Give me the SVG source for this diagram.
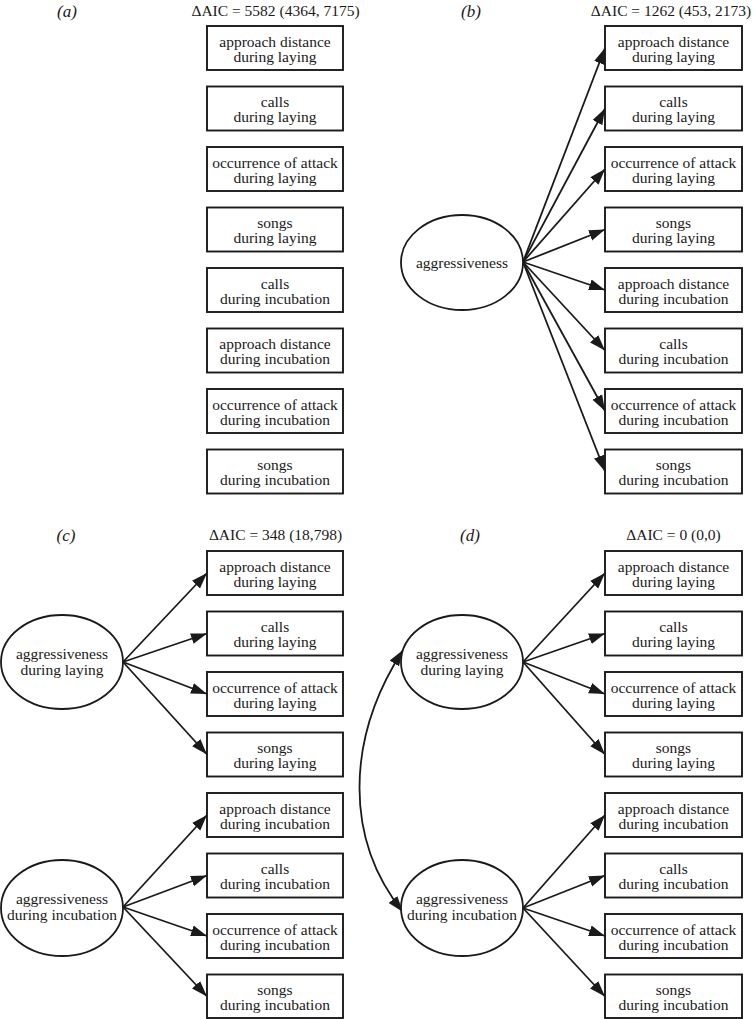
<svg xmlns="http://www.w3.org/2000/svg" width="753" height="1019" viewBox="0 0 753 1019">
<style>
text{font-family:"Liberation Serif","Times New Roman",serif;font-size:15.5px;fill:#1a1a1a;text-anchor:middle}
.lbl{font-style:italic;font-size:17px}
.box{fill:#fff;stroke:#1a1a1a;stroke-width:1.9}
.ell{fill:#fff;stroke:#1a1a1a;stroke-width:1.8}
.c{stroke:#1a1a1a;stroke-width:1.8;fill:none;marker-end:url(#ah)}
.cv{stroke:#1a1a1a;stroke-width:1.8;fill:none;marker-end:url(#ah);marker-start:url(#ah)}
</style>
<defs>
<marker id="ah" markerUnits="userSpaceOnUse" markerWidth="17" markerHeight="12" refX="16" refY="5.5" orient="auto-start-reverse" viewBox="0 0 17 11">
<path d="M0,0 L16,5.5 L0,11 z" fill="#1a1a1a"/>
</marker>
</defs>
<rect width="753" height="1019" fill="#fff"/>

<g id="headers">
<text class="lbl" x="67" y="17">(a)</text>
<text x="275.5" y="16">ΔAIC = 5582 (4364, 7175)</text>
<text class="lbl" x="471" y="17">(b)</text>
<text x="671" y="16">ΔAIC = 1262 (453, 2173)</text>
<text class="lbl" x="66" y="541">(c)</text>
<text x="275.5" y="540">ΔAIC = 348 (18,798)</text>
<text class="lbl" x="470" y="541">(d)</text>
<text x="673.5" y="540">ΔAIC = 0 (0,0)</text>
</g>

<g id="connectors">
<line class="c" x1="523" y1="262" x2="605" y2="48"/>
<line class="c" x1="523" y1="262" x2="605" y2="108.5"/>
<line class="c" x1="523" y1="262" x2="605" y2="169"/>
<line class="c" x1="523" y1="262" x2="605" y2="229.5"/>
<line class="c" x1="523" y1="262" x2="605" y2="290"/>
<line class="c" x1="523" y1="262" x2="605" y2="350.5"/>
<line class="c" x1="523" y1="262" x2="605" y2="411"/>
<line class="c" x1="523" y1="262" x2="605" y2="471.5"/>
<line class="c" x1="123" y1="662" x2="207" y2="573"/>
<line class="c" x1="123" y1="662" x2="207" y2="633.5"/>
<line class="c" x1="123" y1="662" x2="207" y2="694"/>
<line class="c" x1="123" y1="662" x2="207" y2="754.5"/>
<line class="c" x1="123" y1="907" x2="207" y2="815"/>
<line class="c" x1="123" y1="907" x2="207" y2="875.5"/>
<line class="c" x1="123" y1="907" x2="207" y2="936"/>
<line class="c" x1="123" y1="907" x2="207" y2="996.5"/>
<line class="c" x1="523" y1="662" x2="605" y2="573"/>
<line class="c" x1="523" y1="662" x2="605" y2="633.5"/>
<line class="c" x1="523" y1="662" x2="605" y2="694"/>
<line class="c" x1="523" y1="662" x2="605" y2="754.5"/>
<line class="c" x1="523" y1="908" x2="605" y2="815"/>
<line class="c" x1="523" y1="908" x2="605" y2="875.5"/>
<line class="c" x1="523" y1="908" x2="605" y2="936"/>
<line class="c" x1="523" y1="908" x2="605" y2="996.5"/>
<path class="cv" d="M403,650 C345,740 345,840 403,912"/>
</g>

<g id="a1"><rect class="box" x="207" y="26" width="136" height="44"/><text x="275" y="46.5">approach distance</text><text x="275" y="61.5">during laying</text></g>
<g id="a2"><rect class="box" x="207" y="86.5" width="136" height="44"/><text x="275" y="107">calls</text><text x="275" y="122">during laying</text></g>
<g id="a3"><rect class="box" x="207" y="147" width="136" height="44"/><text x="275" y="167.5">occurrence of attack</text><text x="275" y="182.5">during laying</text></g>
<g id="a4"><rect class="box" x="207" y="207.5" width="136" height="44"/><text x="275" y="228">songs</text><text x="275" y="243">during laying</text></g>
<g id="a5"><rect class="box" x="207" y="268" width="136" height="44"/><text x="275" y="288.5">calls</text><text x="275" y="303.5">during incubation</text></g>
<g id="a6"><rect class="box" x="207" y="328.5" width="136" height="44"/><text x="275" y="349">approach distance</text><text x="275" y="364">during incubation</text></g>
<g id="a7"><rect class="box" x="207" y="389" width="136" height="44"/><text x="275" y="409.5">occurrence of attack</text><text x="275" y="424.5">during incubation</text></g>
<g id="a8"><rect class="box" x="207" y="449.5" width="136" height="44"/><text x="275" y="470">songs</text><text x="275" y="485">during incubation</text></g>

<g id="b-lat"><ellipse class="ell" cx="462" cy="262.5" rx="61" ry="47.5"/><text x="462" y="268">aggressiveness</text></g>
<g id="b1"><rect class="box" x="605" y="26" width="137" height="44"/><text x="673.5" y="46.5">approach distance</text><text x="673.5" y="61.5">during laying</text></g>
<g id="b2"><rect class="box" x="605" y="86.5" width="137" height="44"/><text x="673.5" y="107">calls</text><text x="673.5" y="122">during laying</text></g>
<g id="b3"><rect class="box" x="605" y="147" width="137" height="44"/><text x="673.5" y="167.5">occurrence of attack</text><text x="673.5" y="182.5">during laying</text></g>
<g id="b4"><rect class="box" x="605" y="207.5" width="137" height="44"/><text x="673.5" y="228">songs</text><text x="673.5" y="243">during laying</text></g>
<g id="b5"><rect class="box" x="605" y="268" width="137" height="44"/><text x="673.5" y="288.5">approach distance</text><text x="673.5" y="303.5">during incubation</text></g>
<g id="b6"><rect class="box" x="605" y="328.5" width="137" height="44"/><text x="673.5" y="349">calls</text><text x="673.5" y="364">during incubation</text></g>
<g id="b7"><rect class="box" x="605" y="389" width="137" height="44"/><text x="673.5" y="409.5">occurrence of attack</text><text x="673.5" y="424.5">during incubation</text></g>
<g id="b8"><rect class="box" x="605" y="449.5" width="137" height="44"/><text x="673.5" y="470">songs</text><text x="673.5" y="485">during incubation</text></g>

<g id="c-lay"><ellipse class="ell" cx="62" cy="662" rx="61" ry="47"/><text x="62" y="659">aggressiveness</text><text x="62" y="675">during laying</text></g>
<g id="c-inc"><ellipse class="ell" cx="62" cy="908" rx="61" ry="48"/><text x="62" y="904">aggressiveness</text><text x="62" y="920">during incubation</text></g>
<g id="c1"><rect class="box" x="207" y="551" width="136" height="44"/><text x="275" y="571.5">approach distance</text><text x="275" y="586.5">during laying</text></g>
<g id="c2"><rect class="box" x="207" y="611.5" width="136" height="44"/><text x="275" y="632">calls</text><text x="275" y="647">during laying</text></g>
<g id="c3"><rect class="box" x="207" y="672" width="136" height="44"/><text x="275" y="692.5">occurrence of attack</text><text x="275" y="707.5">during laying</text></g>
<g id="c4"><rect class="box" x="207" y="732.5" width="136" height="44"/><text x="275" y="753">songs</text><text x="275" y="768">during laying</text></g>
<g id="c5"><rect class="box" x="207" y="793" width="136" height="44"/><text x="275" y="813.5">approach distance</text><text x="275" y="828.5">during incubation</text></g>
<g id="c6"><rect class="box" x="207" y="853.5" width="136" height="44"/><text x="275" y="874">calls</text><text x="275" y="889">during incubation</text></g>
<g id="c7"><rect class="box" x="207" y="914" width="136" height="44"/><text x="275" y="934.5">occurrence of attack</text><text x="275" y="949.5">during incubation</text></g>
<g id="c8"><rect class="box" x="207" y="974.5" width="136" height="43.5"/><text x="275" y="995">songs</text><text x="275" y="1010">during incubation</text></g>

<g id="d-lay"><ellipse class="ell" cx="462" cy="662" rx="61" ry="47"/><text x="462" y="659">aggressiveness</text><text x="462" y="675">during laying</text></g>
<g id="d-inc"><ellipse class="ell" cx="462" cy="908" rx="61" ry="48"/><text x="462" y="904">aggressiveness</text><text x="462" y="920">during incubation</text></g>
<g id="d1"><rect class="box" x="605" y="551" width="137" height="44"/><text x="673.5" y="571.5">approach distance</text><text x="673.5" y="586.5">during laying</text></g>
<g id="d2"><rect class="box" x="605" y="611.5" width="137" height="44"/><text x="673.5" y="632">calls</text><text x="673.5" y="647">during laying</text></g>
<g id="d3"><rect class="box" x="605" y="672" width="137" height="44"/><text x="673.5" y="692.5">occurrence of attack</text><text x="673.5" y="707.5">during laying</text></g>
<g id="d4"><rect class="box" x="605" y="732.5" width="137" height="44"/><text x="673.5" y="753">songs</text><text x="673.5" y="768">during laying</text></g>
<g id="d5"><rect class="box" x="605" y="793" width="137" height="44"/><text x="673.5" y="813.5">approach distance</text><text x="673.5" y="828.5">during incubation</text></g>
<g id="d6"><rect class="box" x="605" y="853.5" width="137" height="44"/><text x="673.5" y="874">calls</text><text x="673.5" y="889">during incubation</text></g>
<g id="d7"><rect class="box" x="605" y="914" width="137" height="44"/><text x="673.5" y="934.5">occurrence of attack</text><text x="673.5" y="949.5">during incubation</text></g>
<g id="d8"><rect class="box" x="605" y="974.5" width="137" height="43.5"/><text x="673.5" y="995">songs</text><text x="673.5" y="1010">during incubation</text></g>
</svg>
